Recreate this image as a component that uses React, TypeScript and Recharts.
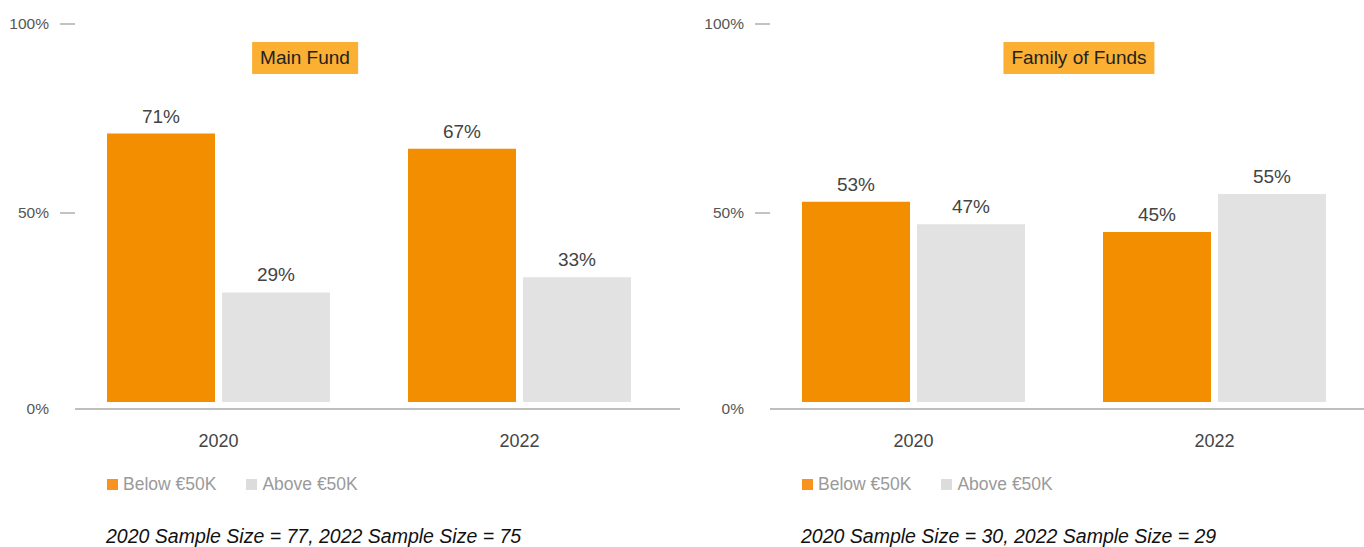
import { Bar, BarChart, LabelList, XAxis, YAxis } from "recharts";

const years = ["2020", "2022"];
const mainBelow = [71, 67];
const mainAbove = [29, 33];
const familyBelow = [53, 45];
const familyAbove = [47, 55];
const yTicks = [0, 50, 100];
const seriesNames = ["Below €50K", "Above €50K"];

const ORANGE = "#F28E00";
const GREY = "#E2E2E2";
const LEGEND_ORANGE = "#F7931E";
const LEGEND_GREY = "#DCDCDC";
const FONT = "'Liberation Sans', Arial, Helvetica, sans-serif";

const pct = (v: number) => `${v}%`;

// y tick with its own short dash; the 0% tick has no dash and sits on the axis line
function YTick(props: any) {
  const { x, y, payload } = props;
  const isZero = payload.value === 0;
  const ty = isZero ? 409 : y;
  return (
    <g>
      {!isZero && <line x1={x + 11} x2={x + 26} y1={y} y2={y} stroke="#9a9a9a" strokeWidth={1.2} />}
      <text x={x} y={ty} dy="0.35em" textAnchor="end" fontSize={15.5} fill="#555" fontFamily={FONT}>
        {pct(payload.value)}
      </text>
    </g>
  );
}

function Panel({
  left,
  title,
  titleCenter,
  below,
  above,
  note,
}: {
  left: number;
  title: string;
  titleCenter: number;
  below: number[];
  above: number[];
  note: string;
}) {
  const data = years.map((year, i) => ({ year, below: below[i], above: above[i] }));
  return (
    <div style={{ position: "absolute", left, top: 0, width: 680, height: 547 }}>
      <BarChart
        width={680}
        height={460}
        data={data}
        margin={{ top: 24, right: 0, bottom: 0, left: 0 }}
        barGap={7}
        barSize={108}
      >
        <XAxis
          dataKey="year"
          height={51}
          tickLine={false}
          tickSize={0}
          tickMargin={25}
          axisLine={{ stroke: "#a9a9a9", strokeWidth: 1.6 }}
          padding={{ left: -7, right: 10 }}
          tick={{ fontSize: 18, fill: "#444", fontFamily: FONT }}
        />
        <YAxis
          width={75}
          domain={[-1.85, 100]}
          ticks={yTicks}
          axisLine={false}
          tickLine={false}
          tickSize={15}
          tickMargin={11}
          tick={<YTick />}
        />
        <Bar dataKey="below" name={seriesNames[0]} fill={ORANGE} isAnimationActive={false}>
          <LabelList
            dataKey="below"
            position="top"
            offset={11}
            formatter={(v: any) => pct(v)}
            style={{ fontSize: 19, fill: "#444", fontFamily: FONT }}
          />
        </Bar>
        <Bar dataKey="above" name={seriesNames[1]} fill={GREY} isAnimationActive={false}>
          <LabelList
            dataKey="above"
            position="top"
            offset={11}
            formatter={(v: any) => pct(v)}
            style={{ fontSize: 19, fill: "#444", fontFamily: FONT }}
          />
        </Bar>
      </BarChart>

      <div
        style={{
          position: "absolute",
          top: 42,
          left: titleCenter,
          transform: "translateX(-50%)",
          height: 32,
          lineHeight: "32px",
          padding: "0 8px",
          background: "#FBB034",
          color: "#222",
          fontSize: 19,
          whiteSpace: "nowrap",
        }}
      >
        {title}
      </div>

      <div
        style={{
          position: "absolute",
          top: 474,
          left: 107,
          display: "flex",
          alignItems: "center",
          fontSize: 17.5,
          color: "#9a9a9a",
          lineHeight: "20px",
        }}
      >
        {seriesNames.map((name, i) => (
          <div key={name} style={{ display: "flex", alignItems: "center", marginRight: 30 }}>
            <span
              style={{
                display: "inline-block",
                width: 11,
                height: 11,
                marginRight: 5,
                background: i === 0 ? LEGEND_ORANGE : LEGEND_GREY,
              }}
            />
            {name}
          </div>
        ))}
      </div>

      <div
        style={{
          position: "absolute",
          top: 525,
          left: 106,
          fontSize: 19.5,
          fontStyle: "italic",
          color: "#111",
          whiteSpace: "nowrap",
          lineHeight: "22px",
        }}
      >
        {note}
      </div>
    </div>
  );
}

export default function App() {
  return (
    <div
      style={{
        position: "absolute",
        left: 0,
        top: 0,
        width: 1364,
        height: 547,
        overflow: "hidden",
        background: "#fff",
        fontFamily: FONT,
      }}
    >
      <Panel
        left={0}
        title="Main Fund"
        titleCenter={305}
        below={mainBelow}
        above={mainAbove}
        note="2020 Sample Size = 77, 2022 Sample Size = 75"
      />
      <Panel
        left={695}
        title="Family of Funds"
        titleCenter={384}
        below={familyBelow}
        above={familyAbove}
        note="2020 Sample Size = 30, 2022 Sample Size = 29"
      />
    </div>
  );
}
